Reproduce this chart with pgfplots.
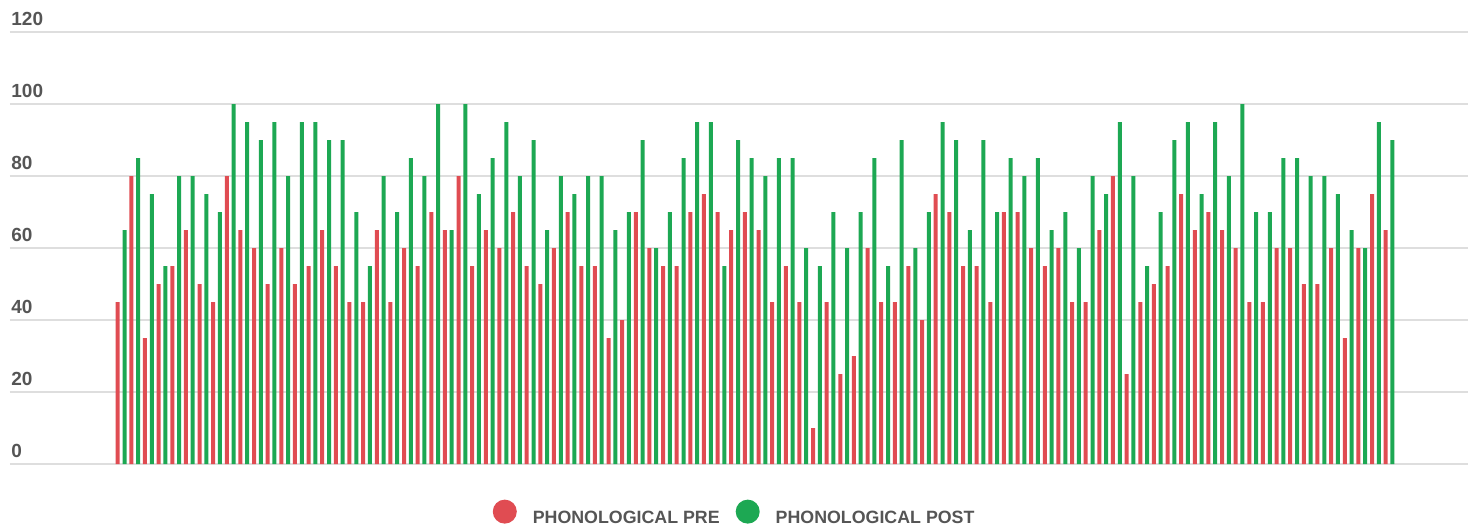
\documentclass[border=0pt]{standalone}
\usepackage{pgfplots}
\pgfplotsset{compat=1.18}
\usepackage{fontspec}
\setmainfont{Liberation Sans}
\definecolor{prered}{RGB}{224,76,82}
\definecolor{postgreen}{RGB}{29,168,83}
\definecolor{gridgray}{RGB}{222,222,222}
\definecolor{labelgray}{RGB}{85,85,85}
\begin{document}
\begin{tikzpicture}
\useasboundingbox (-5pt,-31.5pt) rectangle (731.5pt,232pt);
\begin{axis}[
  at={(0pt,0pt)}, anchor=south west,
  scale only axis,
  width=729pt, height=216pt,
  xmin=-7.15, xmax=99.79,
  ymin=0, ymax=120,
  ytick={0,20,40,60,80,100,120},
  xtick=\empty,
  axis line style={draw=none},
  major tick length=0pt,
  ymajorgrids,
  grid style={gridgray, line width=0.8pt},
  yticklabel style={anchor=base west, inner sep=0pt, xshift=0.5pt, yshift=3.5pt,
    font=\fontsize{9.5}{11}\selectfont\bfseries, text=labelgray},
  /pgf/number format/assume math mode=true,
  ybar=1.4pt, bar width=2pt,
  legend style={at={(axis description cs:0.4977,-0.118)}, anchor=center,
    draw=none, fill=none, legend columns=2,
    font=\fontsize{8.9}{10}\selectfont\bfseries, text=labelgray,
    /tikz/every even column/.append style={column sep=6pt}},
  legend image code/.code={\fill[#1, draw=none] (0pt,0.35em) circle (6pt);},
]
\addplot[fill=prered, draw=none] coordinates {
(1,45) (2,80) (3,35) (4,50) (5,55) (6,65) (7,50) (8,45) (9,80) (10,65)
(11,60) (12,50) (13,60) (14,50) (15,55) (16,65) (17,55) (18,45) (19,45) (20,65)
(21,45) (22,60) (23,55) (24,70) (25,65) (26,80) (27,55) (28,65) (29,60) (30,70)
(31,55) (32,50) (33,60) (34,70) (35,55) (36,55) (37,35) (38,40) (39,70) (40,60)
(41,55) (42,55) (43,70) (44,75) (45,70) (46,65) (47,70) (48,65) (49,45) (50,55)
(51,45) (52,10) (53,45) (54,25) (55,30) (56,60) (57,45) (58,45) (59,55) (60,40)
(61,75) (62,70) (63,55) (64,55) (65,45) (66,70) (67,70) (68,60) (69,55) (70,60)
(71,45) (72,45) (73,65) (74,80) (75,25) (76,45) (77,50) (78,55) (79,75) (80,65)
(81,70) (82,65) (83,60) (84,45) (85,45) (86,60) (87,60) (88,50) (89,50) (90,60)
(91,35) (92,60) (93,75) (94,65)
};
\addlegendentry{\hspace{6pt}PHONOLOGICAL PRE}
\addplot[fill=postgreen, draw=none] coordinates {
(1,65) (2,85) (3,75) (4,55) (5,80) (6,80) (7,75) (8,70) (9,100) (10,95)
(11,90) (12,95) (13,80) (14,95) (15,95) (16,90) (17,90) (18,70) (19,55) (20,80)
(21,70) (22,85) (23,80) (24,100) (25,65) (26,100) (27,75) (28,85) (29,95) (30,80)
(31,90) (32,65) (33,80) (34,75) (35,80) (36,80) (37,65) (38,70) (39,90) (40,60)
(41,70) (42,85) (43,95) (44,95) (45,55) (46,90) (47,85) (48,80) (49,85) (50,85)
(51,60) (52,55) (53,70) (54,60) (55,70) (56,85) (57,55) (58,90) (59,60) (60,70)
(61,95) (62,90) (63,65) (64,90) (65,70) (66,85) (67,80) (68,85) (69,65) (70,70)
(71,60) (72,80) (73,75) (74,95) (75,80) (76,55) (77,70) (78,90) (79,95) (80,75)
(81,95) (82,80) (83,100) (84,70) (85,70) (86,85) (87,85) (88,80) (89,80) (90,75)
(91,65) (92,60) (93,95) (94,90)
};
\addlegendentry{\hspace{6pt}PHONOLOGICAL POST}
\end{axis}
\end{tikzpicture}
\end{document}
